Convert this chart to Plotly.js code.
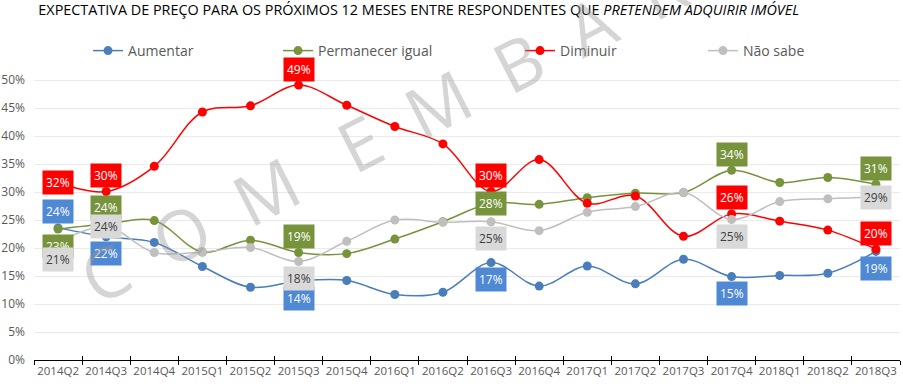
<!DOCTYPE html>
<html>
<head>
<meta charset="utf-8">
<script src="https://cdn.plot.ly/plotly-3.0.1.min.js"></script>
<style>html,body{margin:0;padding:0;background:#fff;}#chart{width:903px;height:388px;}</style>
</head>
<body>
<div id="chart"></div>
<script>
// ---- data ----
var categories = ["2014Q2","2014Q3","2014Q4","2015Q1","2015Q2","2015Q3","2015Q4","2016Q1","2016Q2","2016Q3","2016Q4","2017Q1","2017Q2","2017Q3","2017Q4","2018Q1","2018Q2","2018Q3"];
var aumentar   = [23.6, 22.0, 21.0, 16.7, 13.0, 14.1, 14.2, 11.7, 12.1, 17.4, 13.2, 16.8, 13.6, 18.0, 14.9, 15.1, 15.5, 19.4];
var permanecer = [23.4, 24.3, 24.9, 19.3, 21.4, 19.2, 19.0, 21.6, 24.7, 28.0, 27.8, 29.0, 29.8, 29.9, 33.9, 31.7, 32.6, 31.4];
var diminuir   = [31.7, 30.1, 34.6, 44.3, 45.4, 49.1, 45.5, 41.7, 38.6, 30.1, 35.8, 28.0, 29.3, 22.1, 26.1, 24.8, 23.2, 19.8];
var naoSabe    = [21.0, 23.8, 19.2, 19.3, 20.1, 17.6, 21.2, 25.0, 24.6, 24.7, 23.1, 26.4, 27.4, 29.9, 25.1, 28.3, 28.8, 29.1];
var seriesNames = ["Aumentar", "Permanecer igual", "Diminuir", "Não sabe"];
var yTicks = [0, 5, 10, 15, 20, 25, 30, 35, 40, 45, 50];
var labelIdx = [0, 1, 5, 9, 14, 17];

// ---- styles ----
var FONT = "Open Sans, Noto Sans, sans-serif";
var styles = [
  {data: aumentar,   line: "#4a7ebb", bg: "#4f88d3", fg: "#ffffff", legend: "legend",  lx: 0.0624, pos: ["a","b","b","b","b","b"]},
  {data: permanecer, line: "#77933c", bg: "#77933c", fg: "#ffffff", legend: "legend2", lx: 0.2818, pos: ["b","a","a","c","a","a"]},
  {data: diminuir,   line: "#ff0000", bg: "#ff0000", fg: "#ffffff", legend: "legend3", lx: 0.5612, pos: ["c","a","a","a","a","a"]},
  {data: naoSabe,    line: "#bfbfbf", bg: "#d9d9d9", fg: "#404040", legend: "legend4", lx: 0.7725, pos: ["b","c","b","b","b","c"]}
];
var shift = {a: 16, b: -17, c: 0};

var traces = [];
var annotations = [];
var layout = {
  width: 903, height: 388,
  margin: {l: 34, r: 3, t: 70, b: 28},
  paper_bgcolor: "#ffffff", plot_bgcolor: "#ffffff",
  font: {family: FONT, color: "#595959", size: 12},
  title: {
    text: "EXPECTATIVA DE PREÇO PARA OS PRÓXIMOS 12 MESES ENTRE RESPONDENTES QUE <i>PRETENDEM ADQUIRIR IMÓVEL</i>",
    x: 0.005, xanchor: "left", xref: "paper", y: 0.974, yanchor: "middle", yref: "container",
    font: {family: FONT, size: 14.4, color: "#000000", weight: 500}
  },
  xaxis: {
    type: "category", categoryorder: "array", categoryarray: categories,
    range: [-0.5, categories.length - 0.5],
    showgrid: false, zeroline: false,
    showline: true, linecolor: "#000000", linewidth: 1,
    ticks: "outside", ticklen: 4, tickcolor: "#000000", tickwidth: 1, tickson: "boundaries",
    tickangle: 0,
    tickfont: {family: FONT, size: 11.5, color: "#595959"},
    fixedrange: true
  },
  xaxis2: {
    type: "category", categoryorder: "array", categoryarray: categories,
    range: [-0.5, categories.length - 0.5],
    overlaying: "x", anchor: "y", side: "bottom",
    showgrid: false, zeroline: false, showline: false,
    ticks: "inside", ticklen: 4, tickcolor: "#000000", tickwidth: 1, tickson: "boundaries",
    showticklabels: false
  },
  yaxis: {
    range: [0, 51.8], tickvals: yTicks, ticktext: yTicks.map(function(v){return v + "%";}),
    showgrid: true, gridcolor: "#ebebeb", gridwidth: 1, zeroline: false, showline: false,
    ticks: "", ticklabelstandoff: 8,
    tickfont: {family: FONT, size: 12, color: "#595959"},
    fixedrange: true
  },
  showlegend: true,
  annotations: annotations
};

styles.forEach(function(s, k) {
  traces.push({
    type: "scatter", mode: "lines+markers", name: seriesNames[k],
    x: categories, y: s.data,
    line: {color: s.line, width: 1.5, shape: "spline", smoothing: 1},
    marker: {color: s.line, size: 9},
    legend: s.legend, hoverinfo: "skip"
  });
  layout[s.legend] = {
    x: s.lx, xanchor: "left", y: 1.0655, yanchor: "middle", xref: "paper", yref: "paper",
    orientation: "h", bgcolor: "rgba(0,0,0,0)", itemwidth: 30,
    font: {family: FONT, size: 14, color: "#595959"}
  };
});

// dummy trace for inner ticks axis
traces.push({type: "scatter", mode: "lines", x: categories, y: categories.map(function(){return null;}),
  xaxis: "x2", showlegend: false, hoverinfo: "skip"});

// data labels
styles.forEach(function(s) {
  labelIdx.forEach(function(i, j) {
    annotations.push({
      xref: "x", yref: "y", x: categories[i], y: s.data[i],
      text: Math.round(s.data[i]) + "%", showarrow: false,
      yshift: shift[s.pos[j]], xanchor: "center", yanchor: "middle",
      bgcolor: s.bg, borderpad: 3,
      font: {family: FONT, size: 12, color: s.fg}
    });
  });
});

// watermark
annotations.push({
  xref: "paper", yref: "paper", x: 0.495, y: 0.93, xanchor: "center", yanchor: "middle",
  text: "C\u00a0\u00a0O\u00a0\u00a0M\u00a0\u00a0\u00a0E\u00a0\u00a0M\u00a0\u00a0B\u00a0\u00a0A\u00a0\u00a0R\u00a0\u00a0G\u00a0\u00a0O",
  showarrow: false, textangle: -27,
  font: {family: FONT, size: 70, color: "rgba(150,150,150,0.4)"}
});

Plotly.newPlot("chart", traces, layout, {displayModeBar: false, staticPlot: true});
</script>
</body>
</html>
